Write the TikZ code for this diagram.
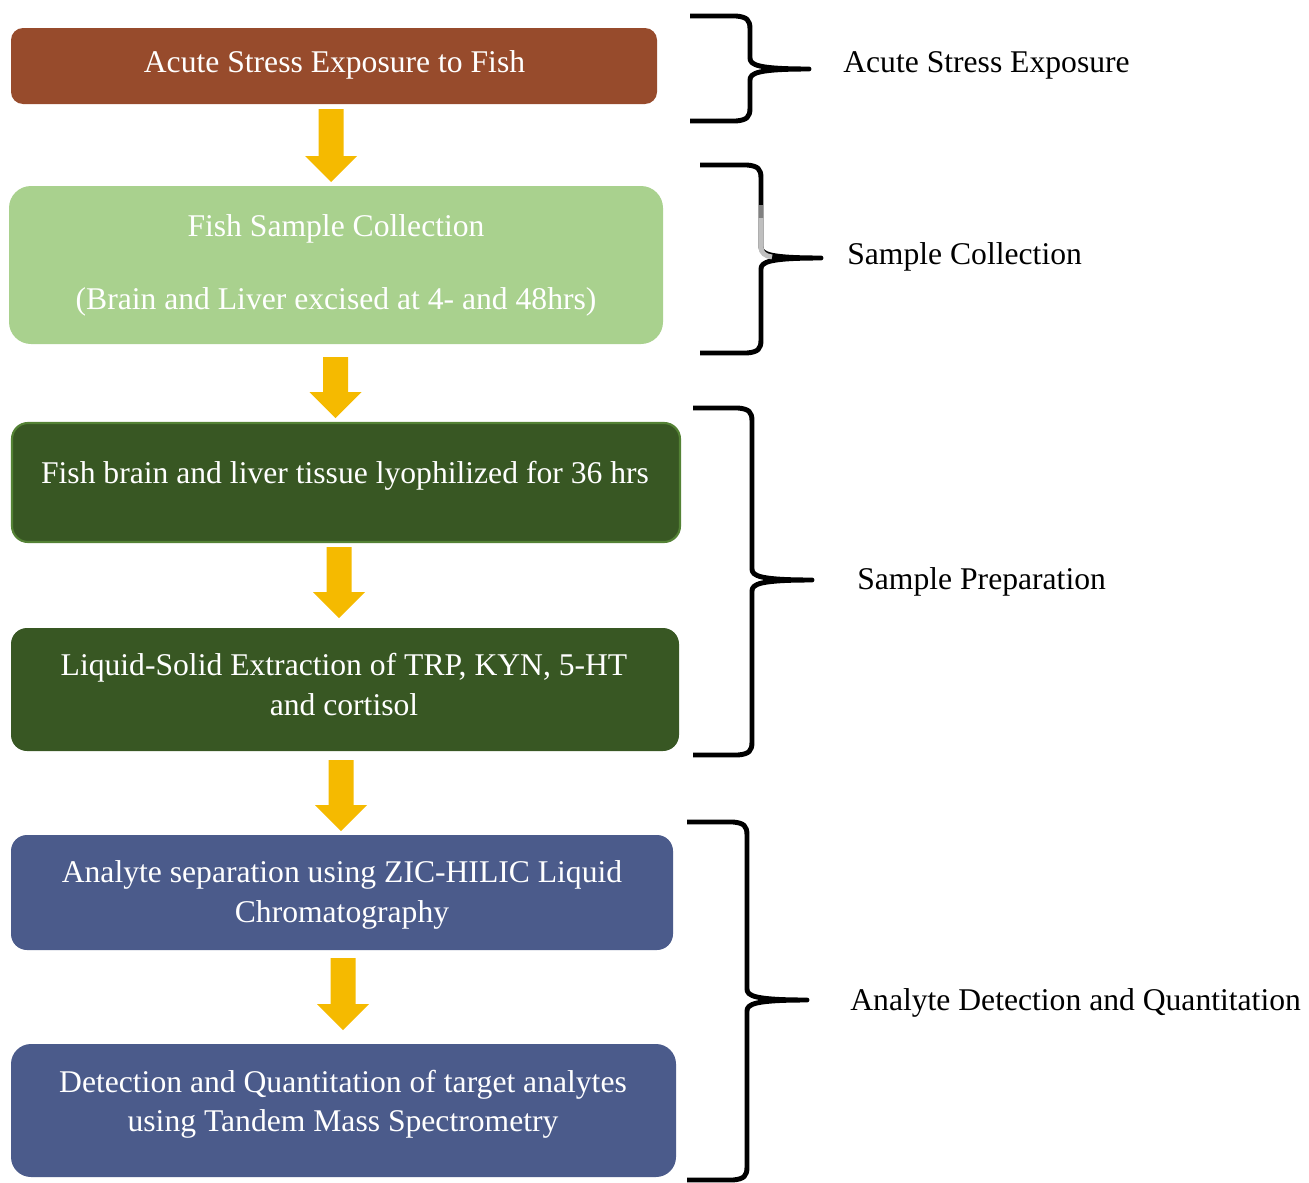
\documentclass[tikz,border=0pt]{standalone}
\usepackage{fontspec}
\setmainfont{Liberation Serif}
\definecolor{cBrown}{HTML}{974B2C}
\definecolor{cLight}{HTML}{A9D18E}
\definecolor{cDark}{HTML}{385723}
\definecolor{cDarkB}{HTML}{548235}
\definecolor{cBlue}{HTML}{4B5B8B}
\definecolor{cArrow}{HTML}{F5BA00}
\begin{document}
\begin{tikzpicture}[x=0.02cm,y=-0.02cm,
  box/.style={draw=none,inner sep=0pt},
  txt/.style={text=white,font=\fontsize{18}{22.5}\selectfont,inner sep=0pt,anchor=base},
  lab/.style={text=black,font=\fontsize{18}{22.5}\selectfont,inner sep=0pt,anchor=base west},
  brace/.style={line width=2.8pt,line join=round,black},
  blk/.style={fill=cArrow,draw=none}]
\useasboundingbox (0,0) rectangle (1309,1183);
\newcommand{\blockarr}[3]{%
  \fill[blk] (#1-12.5,#2) -- (#1+12.5,#2) -- (#1+12.5,#3-26) -- (#1+26,#3-26) -- (#1,#3) -- (#1-26,#3-26) -- (#1-12.5,#3-26) -- cycle;}
\newcommand{\bracepath}[6]{%
  \draw[brace] (#1,#4) -- (#2-14,#4) .. controls (#2-3,#4+1) and (#2,#4+4) .. (#2,#4+13) -- (#2,#5-11) .. controls (#2,#5-4) and (#2+8,#5) .. (#3,#5) .. controls (#2+8,#5) and (#2,#5+4) .. (#2,#5+11) -- (#2,#6-13) .. controls (#2,#6-4) and (#2-3,#6-1) .. (#2-14,#6) -- (#1,#6);}
% boxes
\node[box,fill=cBrown,rounded corners=12*0.02cm,minimum width=646*0.02cm,minimum height=76*0.02cm] (b1) at (334,66) {};
\node[box,fill=cLight,rounded corners=22*0.02cm,minimum width=654*0.02cm,minimum height=158*0.02cm] (b2) at (336,265) {};
\node[box,fill=cDark,draw=cDarkB,line width=1.2pt,rounded corners=16*0.02cm,minimum width=668*0.02cm,minimum height=119*0.02cm] (b3) at (346,482.5) {};
\node[box,fill=cDark,rounded corners=16*0.02cm,minimum width=668*0.02cm,minimum height=123*0.02cm] (b4) at (345,689.5) {};
\node[box,fill=cBlue,rounded corners=16*0.02cm,minimum width=662*0.02cm,minimum height=115*0.02cm] (b5) at (342,892.5) {};
\node[box,fill=cBlue,rounded corners=20*0.02cm,minimum width=665*0.02cm,minimum height=133*0.02cm] (b6) at (343.5,1110.5) {};
% texts
\node[txt] (t1) at (334.5,72) {Acute Stress Exposure to Fish};
\node[txt] (t2a) at (336,236) {Fish Sample Collection};
\node[txt] (t2b) at (336,309) {(Brain and Liver excised at 4- and 48hrs)};
\node[txt] (t3) at (345,483) {Fish brain and liver tissue lyophilized for 36 hrs};
\node[txt] (t4a) at (344,675) {Liquid-Solid Extraction of TRP, KYN, 5-HT};
\node[txt] (t4b) at (344,715) {and cortisol};
\node[txt] (t5a) at (342,882) {Analyte separation using ZIC-HILIC Liquid};
\node[txt] (t5b) at (342,922) {Chromatography};
\node[txt] (t6a) at (343,1092) {Detection and Quantitation of target analytes};
\node[txt] (t6b) at (343,1131) {using Tandem Mass Spectrometry};
% arrows
\blockarr{331}{109}{182}
\blockarr{335.5}{357}{418}
\blockarr{339}{547}{618}
\blockarr{341}{760}{831}
\blockarr{343}{958}{1030}
% braces
\bracepath{690}{750}{809}{16}{69}{121}
\bracepath{700}{761}{821}{165}{258}{353}
\draw[line width=2.8pt,color=gray] (761,205) -- (761,218);
\draw[line width=2.8pt,color=black!25] (761,218) -- (761,247) .. controls (761,253) and (765,256) .. (772,257);
\bracepath{693}{752}{812}{408}{580}{755}
\bracepath{687}{747}{807}{822}{1000}{1180}
% labels
\node[lab] (l1) at (843,72) {Acute Stress Exposure};
\node[lab] (l2) at (847,264) {Sample Collection};
\node[lab] (l3) at (857,589) {Sample Preparation};
\node[lab] (l4) at (850,1010) {Analyte Detection and Quantitation};
\end{tikzpicture}
\end{document}
